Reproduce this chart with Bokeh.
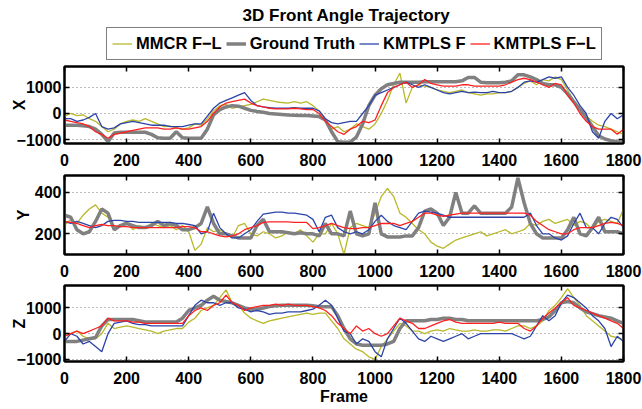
from bokeh.plotting import figure
from bokeh.models import Range1d, LinearAxis, Legend, LegendItem, FixedTicker, Label
from bokeh.layouts import column
from bokeh.embed import file_html
from bokeh.resources import INLINE

frames = list(range(0, 1801, 20))
xticks = [0, 200, 400, 600, 800, 1000, 1200, 1400, 1600, 1800]

title_text = "3D Front Angle Trajectory"
labels = ["MMCR F\u2212L", "Ground Truth", "KMTPLS F", "KMTPLS F\u2212L"]

# ---------------- X ----------------
x_mmcr = [-100, 0, -80, -50, -200, -300, -500, -700, -600, -400,
          -300, -250, -300, -200, -300, -400, -500, -480, -550, -600,
          -550, -400, -450, -200, 100, 300, 350, 200, 250, 300,
          350, 450, 550, 500, 450, 420, 400, 450, 400, 450,
          300, 100, -200, -600, -500, -700, -600, -400, -500, -600,
          -400, 0, 500, 1100, 1550, 400, 1000, 1100, 1050, 1000,
          900, 850, 800, 850, 900, 800, 750, 700, 750, 750,
          800, 800, 850, 1000, 1150, 1250, 1100, 1300, 1250, 1400,
          1300, 900, 500, 200, -100, -300, -450, -500, -600, -700,
          -800]
x_gt = [-450, -450, -450, -470, -500, -600, -800, -1080, -750, -720,
        -720, -720, -720, -720, -800, -930, -950, -950, -700, -930,
        -950, -950, -950, -600, -50, 150, 250, 300, 280, 200,
        120, 80, 50, 0, -20, -40, -60, -70, -80, -80,
        -100, -120, -250, -700, -1080, -1100, -1100, -900, -400, 300,
        700, 950, 1100, 1150, 1200, 1200, 1200, 1200, 1220, 1220,
        1220, 1220, 1220, 1220, 1250, 1380, 1380, 1200, 1180, 1180,
        1180, 1200, 1250, 1480, 1480, 1400, 1300, 1150, 1100, 1100,
        1000, 750, 450, 150, -150, -500, -850, -980, -1040, -1080,
        -1100]
x_kf = [-200, -200, -300, -250, -150, 0, -500, -600, -550, -400,
        -350, -300, -350, -400, -450, -450, -450, -500, -500, -500,
        -450, -400, -400, -100, 200, 400, 500, 600, 700, 800,
        500, 300, 250, 220, 200, 200, 200, 220, 200, 200,
        200, 100, -200, -350, -400, -350, -300, -300, 0, 300,
        700, 800, 900, 1000, 1100, 1200, 1100, 1000, 1100, 1000,
        900, 800, 750, 800, 850, 800, 820, 800, 800, 850,
        800, 800, 850, 1000, 1200, 1250, 1200, 1300, 1400, 1350,
        1400, 1000, 700, 300, 0, -700, -950, -300, 0, -200,
        -50]
x_kfl = [-250, -300, -350, -400, -500, -700, -800, -950, -800, -750,
         -700, -650, -600, -550, -550, -550, -600, -600, -550, -600,
         -600, -550, -500, -300, 0, 250, 400, 450, 500, 550,
         400, 300, 250, 200, 180, 180, 180, 200, 180, 150,
         150, 0, -300, -500, -700, -800, -600, -500, -300, -350,
         -250, 300, 800, 1000, 1100, 1200, 1000, 1100, 1300, 1150,
         1100, 1050, 1050, 1050, 1100, 1100, 1050, 1050, 1050, 1050,
         1050, 1100, 1200, 1300, 1350, 1300, 1200, 1100, 1000, 1150,
         1100, 700, 400, 0, -300, -500, -600, -600, -600, -800,
         -600]

# ---------------- Y ----------------
y_mmcr = [240, 270, 250, 290, 320, 340, 300, 280, 230, 240,
          260, 220, 240, 230, 250, 240, 230, 240, 220, 240,
          210, 120, 150, 230, 210, 220, 200, 180, 240, 250,
          200, 190, 210, 200, 180, 190, 210, 200, 220, 190,
          160, 200, 200, 250, 200, 100, 230, 250, 240, 230,
          300, 380, 420, 380, 300, 280, 250, 220, 200, 160,
          140, 130, 150, 170, 180, 190, 200, 210, 190, 200,
          210, 220, 200, 210, 220, 250, 240, 260, 270, 250,
          260, 270, 240, 260, 250, 220, 260, 270, 260, 250,
          320]
y_gt = [290, 280, 220, 200, 210, 260, 320, 300, 220, 240,
        250, 240, 230, 230, 240, 260, 240, 250, 240, 220,
        220, 230, 250, 330, 250, 200, 200, 190, 180, 180,
        180, 240, 270, 210, 210, 210, 205, 200, 205, 200,
        200, 190, 250, 200, 200, 190, 310, 200, 190, 200,
        350, 200, 185, 185, 185, 190, 190, 230, 310, 320,
        300, 240, 280, 400, 300, 300, 335, 300, 300, 300,
        300, 300, 330, 470, 350, 250, 200, 180, 180, 180,
        180, 220, 280, 200, 190, 230, 280, 210, 210, 210,
        200]
y_kf = [260, 250, 260, 250, 240, 230, 240, 260, 265, 265,
        260, 260, 255, 255, 255, 255, 255, 255, 250, 250,
        245, 240, 200, 210, 300, 230, 200, 180, 180, 200,
        220, 260, 295, 300, 305, 305, 300, 300, 295, 290,
        270, 210, 280, 290, 230, 210, 200, 210, 200, 220,
        260, 290, 260, 240, 230, 220, 260, 300, 310, 305,
        300, 290, 280, 280, 280, 280, 280, 280, 280, 280,
        280, 280, 280, 280, 280, 300, 240, 200, 200, 180,
        170, 190, 250, 300, 230, 230, 200, 250, 280, 270,
        230]
y_kfl = [260, 255, 250, 240, 230, 240, 245, 240, 240, 235,
         235, 230, 230, 230, 230, 230, 230, 230, 230, 235,
         235, 230, 210, 210, 200, 190, 185, 190, 200, 220,
         230, 240, 255, 258, 258, 258, 258, 255, 255, 255,
         225, 230, 240, 250, 240, 230, 225, 225, 230, 230,
         240, 250, 250, 250, 240, 250, 260, 280, 300, 300,
         290, 285, 290, 295, 300, 300, 300, 300, 300, 300,
         300, 300, 300, 300, 300, 290, 260, 240, 220, 210,
         200, 200, 220, 230, 230, 230, 240, 250, 255, 250,
         240]

# ---------------- Z ----------------
z_mmcr = [-100, 0, 100, -100, -200, -200, 0, 400, 200, 250,
          300, 250, 200, 150, 100, 0, 100, 150, 200, 200,
          450, 600, 900, 1000, 1100, 1400, 1700, 1200, 1100, 800,
          600, 500, 400, 500, 550, 600, 650, 700, 750, 800,
          750, 800, 800, 500, 200, -200, -400, -600, -700, -900,
          -1000, -500, -200, 100, 400, 300, 100, 100, 0, 100,
          150, 100, 200, 150, 100, 100, 150, 100, 100, 150,
          150, 100, 200, 300, 300, 200, 300, 500, 900, 1100,
          1400, 1750, 1400, 1100, 700, 500, 300, 100, -100, -150,
          -250]
z_gt = [-300, -300, -300, -250, -200, -150, 300, 550, 550, 550,
        550, 550, 500, 450, 450, 450, 450, 450, 450, 600,
        900, 1000, 1100, 1300, 1450, 1300, 1250, 1200, 1100, 1000,
        950, 950, 1000, 1050, 1080, 1100, 1100, 1100, 1100, 1100,
        1080, 1050, 1050, 1050, 700, 200, -200, -400, -450, -450,
        -450, -450, -400, -300, 200, 500, 500, 500, 500, 550,
        550, 600, 600, 550, 550, 500, 500, 500, 500, 500,
        500, 500, 500, 500, 500, 500, 500, 550, 650, 900,
        1200, 1250, 1200, 1000, 850, 780, 700, 650, 600, 500,
        400]
z_kf = [-300, 0, -100, -400, -300, -500, -700, 0, 400, 450,
        500, 400, 350, 350, 300, 300, 300, 300, 300, 300,
        700, 1100, 1300, 1200, 1200, 1100, 1200, 1200, 1000, 950,
        850, 900, 850, 750, 800, 800, 850, 850, 850, 900,
        950, 1100, 1300, 1100, 600, 100, 0, -400, -200, -300,
        -700, -900, -200, 200, 600, 400, 100, -200, -300, -100,
        -200, -300, -200, -100, 0, -200, -100, 0, 0, 0,
        0, 0, 0, -100, -200, -100, 300, 700, 500, 700,
        1200, 1500, 1400, 1200, 1000, 700, 500, 200, -500, -100,
        -300]
z_kfl = [-100, 0, 100, 0, 100, 200, 300, 600, 500, 500,
         500, 450, 450, 400, 400, 400, 400, 400, 400, 400,
         700, 900, 1000, 900, 1100, 1200, 1500, 1200, 1100, 900,
         1000, 1050, 1100, 1100, 1150, 1100, 1150, 1100, 1100, 1100,
         1050, 1000, 900, 700, 400, 200, 0, 300, 100, 200,
         0, -100, 0, 300, 600, 500, 400, 200, 200, 300,
         400, 500, 550, 450, 400, 400, 400, 400, 400, 400,
         450, 400, 400, 400, 200, 100, 300, 600, 800, 1000,
         1200, 1400, 1100, 1000, 900, 800, 700, 600, 500, 400,
         200]

colors = ["#b8b82a", "#808080", "#2c44a8", "#ff2020"]
widths = [1.3, 3.5, 1.3, 1.3]

FONT = "Liberation Sans"


def style_axis(ax, standoff, ticks, hide_labels=False):
    ax.ticker = FixedTicker(ticks=ticks)
    ax.major_tick_in = 5
    ax.major_tick_out = 0
    ax.minor_tick_line_color = None
    ax.axis_line_width = 2
    ax.axis_line_color = "black"
    ax.major_tick_line_width = 1.5
    ax.major_tick_line_color = "black"
    ax.major_label_text_font = FONT
    ax.major_label_text_font_style = "bold"
    if hide_labels:
        ax.major_label_text_color = None
        ax.major_label_text_font_size = "1px"
        ax.major_label_standoff = 0
    else:
        ax.major_label_text_color = "black"
        ax.major_label_text_font_size = "16px"
        ax.major_label_standoff = standoff


def panel(fh, top, bottom, yr, yticks, name, series, lab_standoff, xlabel=None):
    p = figure(frame_width=559, frame_height=fh, x_range=Range1d(0, 1800), y_range=Range1d(*yr),
               output_backend="svg", toolbar_location=None,
               min_border_left=64, min_border_right=19,
               min_border_top=top, min_border_bottom=bottom)
    p.outline_line_color = "black"
    p.outline_line_width = 2
    p.outline_line_alpha = 1
    p.background_fill_color = "white"
    p.border_fill_color = "white"
    bottom_ax = p.below[0]
    left_ax = p.left[0]
    style_axis(bottom_ax, 10, xticks)
    style_axis(left_ax, 3, yticks)
    top_ax = LinearAxis()
    style_axis(top_ax, 0, xticks, hide_labels=True)
    p.add_layout(top_ax, "above")
    right_ax = LinearAxis()
    style_axis(right_ax, 0, yticks, hide_labels=True)
    p.add_layout(right_ax, "right")
    left_ax.axis_label = name
    left_ax.axis_label_text_font = FONT
    left_ax.axis_label_text_font_style = "bold"
    left_ax.axis_label_text_font_size = "16px"
    left_ax.axis_label_text_color = "black"
    left_ax.axis_label_standoff = lab_standoff
    if xlabel:
        bottom_ax.axis_label = xlabel
        bottom_ax.axis_label_text_font = FONT
        bottom_ax.axis_label_text_font_style = "bold"
        bottom_ax.axis_label_text_font_size = "16px"
        bottom_ax.axis_label_text_color = "black"
        bottom_ax.axis_label_standoff = 1
    p.xgrid.visible = False
    p.ygrid.grid_line_color = "#777777"
    p.ygrid.grid_line_dash = "1 3"
    p.ygrid.grid_line_width = 1
    p.ygrid.ticker = FixedTicker(ticks=yticks)
    for vals, c, w in zip(series, colors, widths):
        p.line(frames, vals, line_color=c, line_width=w)
    return p


# header with title and legend
head = figure(width=642, height=64, x_range=Range1d(0, 1), y_range=Range1d(0, 1),
              output_backend="svg", toolbar_location=None,
              x_axis_location=None, y_axis_location=None,
              min_border_left=64, min_border_right=19, min_border_top=0, min_border_bottom=0)
head.outline_line_color = None
head.xgrid.visible = False
head.ygrid.visible = False
# legend keys (off-range, nothing visible in the header itself)
dummy = [head.line(x=[5, 6], y=[5, 6], line_color=c, line_width=w) for c, w in zip(colors, widths)]
head.add_layout(Label(x=282, y=49, x_units="screen", y_units="screen", text=title_text,
                      text_align="center", text_baseline="middle", text_font=FONT,
                      text_font_style="bold", text_font_size="17px", text_color="black"))
legend = Legend(items=[LegendItem(label=l, renderers=[r]) for l, r in zip(labels, dummy)],
                location=(42, 4), orientation="horizontal")
legend.label_text_font = FONT
legend.label_text_font_style = "bold"
legend.label_text_font_size = "16.5px"
legend.label_text_color = "black"
legend.glyph_width = 20
legend.glyph_height = 21
legend.label_height = 21
legend.label_standoff = 4
legend.spacing = 4
legend.padding = 5
legend.margin = 0
legend.border_line_color = "black"
legend.border_line_width = 1.5
legend.background_fill_alpha = 1
head.add_layout(legend, "center")

p1 = panel(77, 2, 30, (-1150, 1800), [-1000, 0, 1000], "X",
           [x_mmcr, x_gt, x_kf, x_kfl], -14)
p2 = panel(79, 2, 30, (100, 482), [200, 400], "Y",
           [y_mmcr, y_gt, y_kf, y_kfl], 0)
p3 = panel(76, 1, 44, (-1080, 1870), [-1000, 0, 1000], "Z",
           [z_mmcr, z_gt, z_kf, z_kfl], -14, xlabel="Frame")

layout = column(head, p1, p2, p3, spacing=0)
open("out.html", "w").write(file_html(layout, INLINE))
